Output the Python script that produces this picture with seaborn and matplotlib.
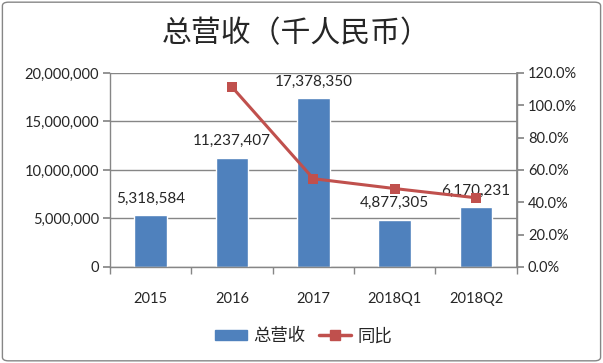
import numpy as np
import matplotlib
matplotlib.use("Agg")
import matplotlib.pyplot as plt
import seaborn as sns
from matplotlib.patches import FancyBboxPatch, Patch
from matplotlib.lines import Line2D
from matplotlib.ticker import FuncFormatter, MultipleLocator, FixedLocator

# Dados do gráfico
categorias = ["2015", "2016", "2017", "2018Q1", "2018Q2"]
receita = [5318584, 11237407, 17378350, 4877305, 6170231]
crescimento = [np.nan, 1.113, 0.546, 0.485, 0.428]

titulo = "总营收（千人民币）"
nome_barra = "总营收"
nome_linha = "同比"

azul = "#4F81BD"
vermelho = "#C0504D"
cinza = "#868686"

sns.set_theme(style="white")
plt.rcParams['font.family'] = ['Lato', 'Noto Sans CJK SC', 'DejaVu Sans']

fig = plt.figure(figsize=(6.03, 3.63), dpi=100)
ax = fig.add_axes([0.1824, 0.2645, 0.6746, 0.5345])

# Barras de receita
sns.barplot(x=categorias, y=receita, color=azul, width=0.4, saturation=1, ax=ax)
ax.set_ylim(0, 20000000)
ax.yaxis.set_major_locator(MultipleLocator(5000000))
ax.yaxis.set_major_formatter(FuncFormatter(lambda v, p: f"{v:,.0f}"))
ax.grid(axis="y", color=cinza, linewidth=1)
ax.set_axisbelow(True)
ax.set_xlim(-0.5, len(categorias) - 0.5)
ax.set_xlabel("")
ax.set_ylabel("")

ax.spines["top"].set_visible(False)
for s in ["left", "bottom", "right"]:
    ax.spines[s].set_color(cinza)
    ax.spines[s].set_linewidth(1)

ax.tick_params(axis="y", left=True, length=5, color=cinza, labelsize=10.5, pad=3)
ax.tick_params(axis="x", bottom=False, labelsize=10.5, pad=12)
ax.xaxis.set_minor_locator(FixedLocator(np.arange(-0.5, len(categorias), 1)))
ax.tick_params(axis="x", which="minor", bottom=True, length=5, color=cinza)

ax.bar_label(ax.containers[0], labels=[f"{v:,.0f}" for v in receita],
             padding=7, fontsize=11)

# Linha de crescimento no eixo secundário
ax2 = ax.twinx()
posicoes = np.arange(len(categorias))
sns.lineplot(x=posicoes, y=crescimento, color=vermelho, linewidth=2.2,
             marker="s", markersize=7, markeredgewidth=0, ax=ax2)
ax2.set_ylim(0, 1.2)
ax2.yaxis.set_major_locator(MultipleLocator(0.2))
ax2.yaxis.set_major_formatter(FuncFormatter(lambda v, p: f"{v*100:.1f}%"))
ax2.tick_params(axis="y", right=True, length=5, color=cinza, labelsize=10.5, pad=3)
for s in ["top", "left", "bottom"]:
    ax2.spines[s].set_visible(False)
ax2.spines["right"].set_color(cinza)
ax2.set_ylabel("")
ax2.grid(False)

fig.text(0.491, 0.907, titulo, ha="center", va="center", fontsize=21.5,
         family=['Noto Sans CJK SC', 'DejaVu Sans'])

handles = [Patch(color=azul),
           Line2D([0], [0], color=vermelho, linewidth=2.5, marker="s", markersize=7)]
fig.legend(handles, [nome_barra, nome_linha], loc="center", bbox_to_anchor=(0.503, 0.074),
           ncol=2, frameon=False, handlelength=1.85, handleheight=0.55, handletextpad=0.35,
           columnspacing=0.8,
           prop={'family': ['Noto Sans CJK SC', 'DejaVu Sans'], 'size': 12.5})

borda = FancyBboxPatch((0.004, 0.006), 0.992, 0.988, boxstyle="round,pad=0,rounding_size=0.01",
                       transform=fig.transFigure, facecolor="none", edgecolor=cinza, linewidth=1)
fig.patches.append(borda)

fig.savefig("out.png", dpi=100)
